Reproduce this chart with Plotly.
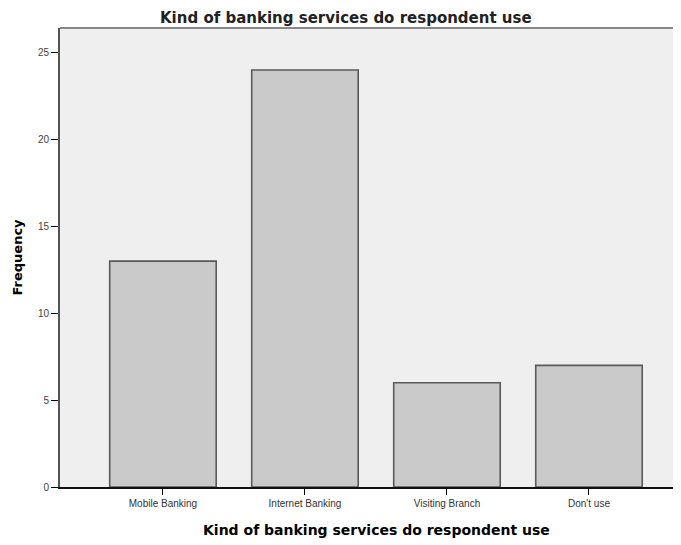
import plotly.graph_objects as go

categories = ["Mobile Banking", "Internet Banking", "Visiting Branch", "Don't use"]
frequency = [13, 24, 6, 7]
y_ticks = [0, 5, 10, 15, 20, 25]

title_text = "Kind of banking services do respondent use"
x_title = "Kind of banking services do respondent use"
y_title = "Frequency"

fig = go.Figure()
fig.add_trace(go.Bar(
    x=list(range(len(categories))),
    y=frequency,
    width=0.75,
    marker=dict(color="#cacaca", line=dict(color="#5a5a5a", width=1.6)),
    hoverinfo="y",
))

# the page body has a default 8px margin, so the figure is sized/placed to compensate
fig.update_layout(
    width=673, height=537,
    margin=dict(l=52, r=0, t=20, b=58),
    paper_bgcolor="white",
    plot_bgcolor="#efefef",
    showlegend=False,
    font=dict(family="Liberation Sans, Arial, sans-serif", color="#222"),
    xaxis=dict(
        range=[-0.725, 3.648],
        tickmode="array",
        tickvals=list(range(len(categories))),
        ticktext=categories,
        ticks="outside", ticklen=6, tickwidth=1, tickcolor="#000",
        showline=True, linecolor="#111", linewidth=2,
        showgrid=False, zeroline=False,
        tickfont=dict(size=10, color="#333"),
    ),
    yaxis=dict(
        range=[0, 26.42],
        tickmode="array",
        tickvals=y_ticks,
        ticks="outside", ticklen=7, tickwidth=1, tickcolor="#000",
        showline=True, linecolor="#555", linewidth=2,
        showgrid=False, zeroline=False,
        tickfont=dict(size=10, color="#444"),
    ),
    shapes=[dict(type="line", xref="paper", yref="paper", x0=0, x1=1, y0=1, y1=1,
                 line=dict(color="#888", width=2))],
    annotations=[
        dict(text="<b>" + title_text + "</b>", xref="paper", yref="paper", x=(346 - 60) / 621, y=1,
             yshift=10, showarrow=False, xanchor="center", yanchor="middle", borderpad=0,
             font=dict(size=15, color="#222", family="DejaVu Sans")),
        dict(text="<b>" + x_title + "</b>", xref="paper", yref="paper", x=(376 - 60) / 621, y=0,
             yshift=-43, showarrow=False, xanchor="center", yanchor="middle",
             font=dict(size=14, color="#000", family="DejaVu Sans")),
        dict(text="<b>" + y_title + "</b>", xref="paper", yref="paper", x=0, xshift=-43,
             y=0.5, showarrow=False, textangle=-90, xanchor="center", yanchor="middle",
             font=dict(size=13, color="#000", family="DejaVu Sans")),
    ],
)

fig.write_html("out.html")
